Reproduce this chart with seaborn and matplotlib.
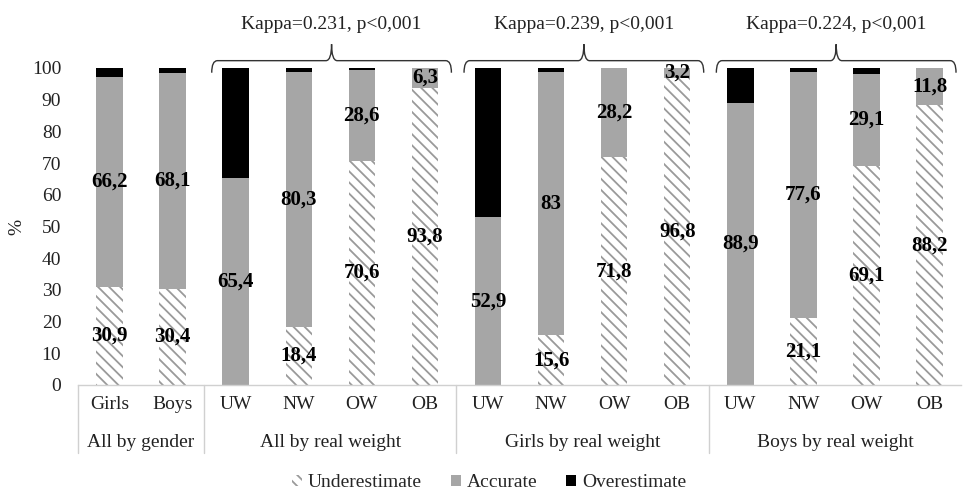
import matplotlib
matplotlib.use('Agg')
import matplotlib.pyplot as plt
import matplotlib.transforms as mtransforms
from matplotlib.patches import Patch, PathPatch
from matplotlib.path import Path
import pandas as pd
import seaborn as sns

# data (percent)
groups = ['All by gender', 'All by real weight', 'Girls by real weight', 'Boys by real weight']
subgroups = [['Girls', 'Boys'],
             ['UW', 'NW', 'OW', 'OB'],
             ['UW', 'NW', 'OW', 'OB'],
             ['UW', 'NW', 'OW', 'OB']]
under = [30.9, 30.4, 0.0, 18.4, 70.6, 93.8, 0.0, 15.6, 71.8, 96.8, 0.0, 21.1, 69.1, 88.2]
accurate = [66.2, 68.1, 65.4, 80.3, 28.6, 6.3, 52.9, 83.0, 28.2, 3.2, 88.9, 77.6, 29.1, 11.8]
over = [2.9, 1.5, 34.6, 1.3, 0.8, 0.0, 47.1, 1.4, 0.0, 0.0, 11.1, 1.3, 1.8, 0.0]
kappas = ['Kappa=0.231, p<0,001', 'Kappa=0.239, p<0,001', 'Kappa=0.224, p<0,001']

GRAY = '#a6a6a6'
HATCH_COL = '#9a9a9a'
HATCH = '\\\\\\'
FS = 14

sns.set_style('white')
plt.rcParams['font.family'] = ['Liberation Serif', 'DejaVu Serif']
plt.rcParams['hatch.linewidth'] = 1.3

bars = []
for g, subs in zip(groups, subgroups):
    bars += [g + '|' + s for s in subs]
df = pd.DataFrame({'bar': bars, 'under': under, 'accurate': accurate, 'over': over})
df['acc_top'] = df['under'] + df['accurate']
df['total'] = df['acc_top'] + df['over']

fig = plt.figure(figsize=(9.63, 4.91), dpi=100)
ax = fig.add_axes([0.081, 0.216, 0.917, 0.6456])

kw = dict(data=df, x='bar', order=bars, width=0.42, saturation=1, errorbar=None,
          linewidth=0, ax=ax)
sns.barplot(y='total', color='black', **kw)
sns.barplot(y='acc_top', color=GRAY, **kw)
sns.barplot(y='under', color='white', hatch=HATCH, edgecolor=HATCH_COL, **kw)

# value labels
for i, row in df.iterrows():
    if row['under'] > 0:
        ax.text(i, row['under'] / 2, f"{row['under']:g}".replace('.', ','),
                ha='center', va='center', fontsize=15, fontweight='bold', color='black')
    if row['accurate'] > 0:
        ax.text(i, row['under'] + row['accurate'] / 2, f"{row['accurate']:g}".replace('.', ','),
                ha='center', va='center', fontsize=15, fontweight='bold', color='black')

ax.set_xlim(-0.5, len(bars) - 0.5)
ax.set_ylim(0, 100)
ax.set_yticks(range(0, 101, 10))
ax.tick_params(axis='y', length=0, pad=12, labelsize=FS, labelcolor='#222222')
ax.set_xticks(range(len(bars)))
ax.set_xticklabels([b.split('|')[1] for b in bars])
ax.tick_params(axis='x', length=0, pad=8, labelsize=FS, labelcolor='#222222')
ax.set_xlabel('')
ax.set_ylabel('%', fontsize=FS, labelpad=5, color='#222222')
for s in ['top', 'right', 'left']:
    ax.spines[s].set_visible(False)
ax.spines['bottom'].set_color('#d0d0d0')
ax.spines['bottom'].set_linewidth(1)

# group separators and group labels below the axis
trans = mtransforms.blended_transform_factory(ax.transData, ax.transAxes)
start = 0
edges = [-0.5]
for g, subs in zip(groups, subgroups):
    end = start + len(subs)
    ax.text((start + end - 1) / 2, -0.18, g, transform=trans, ha='center', va='center',
            fontsize=FS, color='#222222')
    edges.append(end - 0.5)
    start = end
for e in edges[:-1]:
    ax.plot([e, e], [0, -0.215], transform=trans, color='#d0d0d0', lw=1, clip_on=False)

# braces with kappa text above the weight groups
start = len(subgroups[0])
for k, subs in zip(kappas, subgroups[1:]):
    x0 = start - 0.5 + 0.12
    x1 = start + len(subs) - 0.5 - 0.08
    xm = (x0 + x1) / 2
    yb, yh, yt, r = 98.5, 102.3, 107.5, 0.09
    verts = [(x0, yb), (x0, yh), (x0 + r, yh), (xm - r, yh), (xm, yh), (xm, yt),
             (xm, yh), (xm + r, yh), (x1 - r, yh), (x1, yh), (x1, yb)]
    codes = [Path.MOVETO, Path.CURVE3, Path.CURVE3, Path.LINETO, Path.CURVE3, Path.CURVE3,
             Path.CURVE3, Path.CURVE3, Path.LINETO, Path.CURVE3, Path.CURVE3]
    ax.add_patch(PathPatch(Path(verts, codes), fill=False, lw=1, edgecolor='#333333',
                           clip_on=False))
    ax.text(xm, 113.8, k, ha='center', va='center', fontsize=FS, color='#222222',
            clip_on=False)
    start += len(subs)

handles = [Patch(facecolor='white', hatch=HATCH, edgecolor=HATCH_COL, linewidth=0),
           Patch(facecolor=GRAY, linewidth=0),
           Patch(facecolor='black', linewidth=0)]
fig.legend(handles, ['Underestimate', 'Accurate', 'Overestimate'], loc='center',
           bbox_to_anchor=(0.508, 0.017), ncol=3, frameon=False, fontsize=FS,
           handlelength=0.5, handleheight=0.5, handletextpad=0.3, columnspacing=1.5)

fig.savefig('out.png', dpi=100)
